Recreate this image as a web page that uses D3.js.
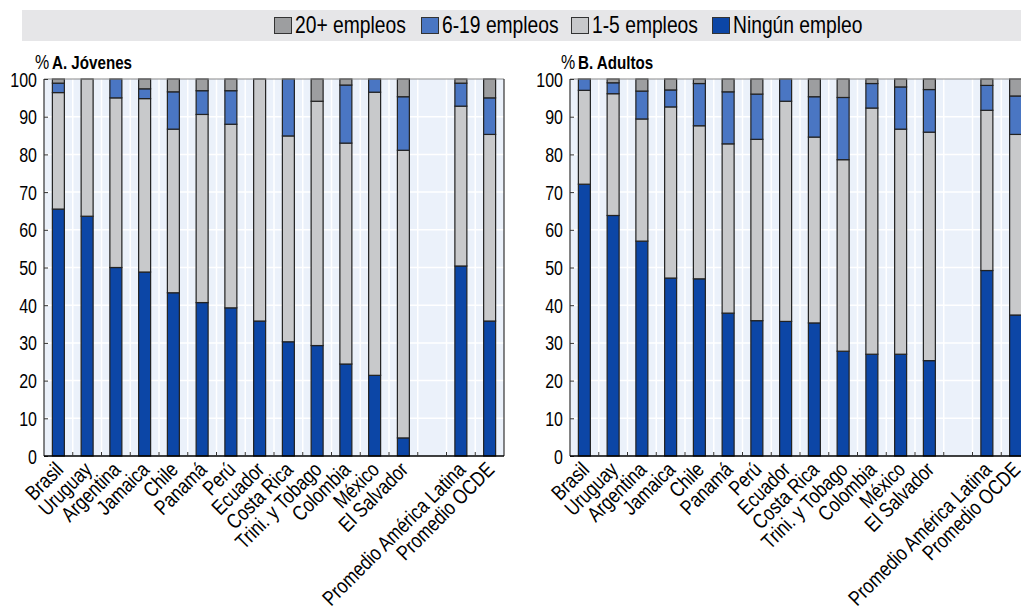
<!DOCTYPE html>
<html><head><meta charset="utf-8">
<script src="https://cdn.jsdelivr.net/npm/d3@7"></script>
<style>
html,body{margin:0;padding:0;background:#fff;}
svg{display:block;}
text{font-family:"Liberation Sans Narrow","Arial Narrow","Liberation Sans",Arial,sans-serif;fill:#000;}
</style></head><body>
<svg id="chart" width="1021" height="611"></svg>
<script>
const categories = ["Brasil","Uruguay","Argentina","Jamaica","Chile","Panamá","Perú","Ecuador","Costa Rica","Trini. y Tobago","Colombia","México","El Salvador","","Promedio América Latina","Promedio OCDE"];
const categoriesB = ["Brasil","Uruguay","Argentina","Jamaica","Chile","Panamá","Perú","Ecuador","Costa Rica","Trini. y Tobago","Colombia","México","El Salvador","","Promedio América Latina","Promedio OCDE"];
const seriesNames = ["Ningún empleo","1-5 empleos","6-19 empleos","20+ empleos"];
const legendOrder = ["20+ empleos","6-19 empleos","1-5 empleos","Ningún empleo"];
const yTicks = [0,10,20,30,40,50,60,70,80,90,100];

// Panel A: Jóvenes (segment sizes, %)
const jovNinguno = [65.5,63.6,50.0,48.8,43.3,40.7,39.3,35.8,30.3,29.3,24.4,21.4,4.8,null,50.4,35.8];
const jov1a5     = [30.9,36.4,45.0,46.0,43.4,49.9,48.7,64.2,54.6,64.8,58.6,75.1,76.3,null,42.4,49.5];
const jov6a19    = [2.5,0,5.0,2.6,9.9,6.3,8.9,0,15.1,0,15.4,3.5,14.2,null,6.1,9.7];
const jov20mas   = [1.1,0,0,2.6,3.4,3.1,3.1,0,0,5.9,1.6,0,4.7,null,1.1,5.0];

// Panel B: Adultos
const adNinguno = [72.1,63.8,57.0,47.2,47.0,37.9,35.9,35.7,35.3,27.8,27.0,27.0,25.3,null,49.2,37.4];
const ad1a5     = [24.9,32.3,32.4,45.4,40.6,44.9,48.1,58.4,49.3,50.8,65.3,59.7,60.6,null,42.5,47.9];
const ad6a19    = [3.0,2.9,7.4,4.5,11.2,13.8,12.0,5.9,10.7,16.5,6.5,11.2,11.3,null,6.6,10.2];
const ad20mas   = [0,1.0,3.2,2.9,1.2,3.4,4.0,0,4.7,4.9,1.2,2.1,2.8,null,1.7,4.5];

const colors = {"Ningún empleo":"#0c46a6","1-5 empleos":"#c8c9cb","6-19 empleos":"#4a76c3","20+ empleos":"#9d9ea0"};
const SX = 0.82; // horizontal condensing to mimic a narrow typeface

const svg = d3.select("#chart");

// Legend band
svg.append("rect").attr("x",22).attr("y",10).attr("width",1010).attr("height",31).attr("fill","#e6e6e8");
const legendX = [274,421,571,712];
const lg = svg.append("g");
legendOrder.forEach((name,i)=>{
  lg.append("rect").attr("x",legendX[i]+0.5).attr("y",17.5).attr("width",17).attr("height",16)
    .attr("fill",colors[name]).attr("stroke","#333").attr("stroke-width",1);
  lg.append("text").attr("transform",`translate(${legendX[i]+21},33) scale(${SX},1)`)
    .attr("font-size",23.5).text(name);
});

function panel(cfg){
  const {left,right,top,bottom,title,data,cats} = cfg;
  const g = svg.append("g");
  const keys = cats.map((c,i)=> c===""? "__gap"+i : c);
  const x = d3.scaleBand().domain(keys).range([left,right]).paddingInner(0.583).paddingOuter(0.2915);
  const y = d3.scaleLinear().domain([0,100]).range([bottom,top]);
  const step = x.step(), off=(step-x.bandwidth())/2;

  g.append("rect").attr("x",left).attr("y",top).attr("width",right-left).attr("height",bottom-top).attr("fill","#ebf1fa");
  g.selectAll(".hg").data(yTicks.filter(t=>t>0&&t<100)).join("line")
    .attr("x1",left).attr("x2",right).attr("y1",d=>y(d)).attr("y2",d=>y(d))
    .attr("stroke","#fff").attr("stroke-width",1.5);
  const bounds = keys.slice(1).map(k=>x(k)-off);
  g.selectAll(".vg").data(bounds).join("line")
    .attr("x1",d=>d).attr("x2",d=>d).attr("y1",top).attr("y2",bottom)
    .attr("stroke","#fff").attr("stroke-width",1.5);

  const rows = keys.map((k,i)=>({key:k,
    "Ningún empleo":data[0][i]||0,"1-5 empleos":data[1][i]||0,"6-19 empleos":data[2][i]||0,"20+ empleos":data[3][i]||0}));
  const stack = d3.stack().keys(seriesNames)(rows);
  stack.forEach(s=>{
    g.selectAll(null).data(s.filter(d=>d[1]-d[0]>0 && !d.data.key.startsWith("__gap"))).join("rect")
      .attr("x",d=>x(d.data.key)).attr("width",x.bandwidth())
      .attr("y",d=>y(d[1])).attr("height",d=>y(d[0])-y(d[1]))
      .attr("fill",colors[s.key]).attr("stroke","#222").attr("stroke-width",1.2);
  });

  g.append("line").attr("x1",left).attr("x2",right).attr("y1",top).attr("y2",top).attr("stroke","#8a8a8a").attr("stroke-width",1.2);
  g.append("line").attr("x1",right).attr("x2",right).attr("y1",top).attr("y2",bottom).attr("stroke","#333").attr("stroke-width",1.2);
  g.append("line").attr("x1",left).attr("x2",left).attr("y1",top).attr("y2",bottom).attr("stroke","#333").attr("stroke-width",1.2);

  const ya = g.append("g").attr("transform",`translate(${left},0)`)
    .call(d3.axisLeft(y).tickValues(yTicks).tickSize(-4).tickPadding(7));
  ya.select(".domain").remove();
  ya.selectAll(".tick line").attr("stroke","#333");
  ya.selectAll("text").attr("font-size",19.5).attr("font-family",null).attr("dy","0.36em")
    .attr("x",-7/SX).attr("transform",`scale(${SX},1)`);

  g.append("line").attr("x1",left).attr("x2",right).attr("y1",bottom).attr("y2",bottom).attr("stroke","#000").attr("stroke-width",1.5);
  g.selectAll(".xt").data(bounds).join("line")
    .attr("x1",d=>d).attr("x2",d=>d).attr("y1",bottom).attr("y2",bottom-4).attr("stroke","#333");
  g.selectAll(".xl").data(keys.filter(k=>!k.startsWith("__gap"))).join("text")
    .attr("transform",d=>`translate(${x(d)+x.bandwidth()/2+6},${bottom+15}) rotate(-45) scale(${SX},1)`)
    .attr("text-anchor","end").attr("font-size",21).text(d=>d);

  g.append("text").attr("transform",`translate(${left-9},${top-10}) scale(${SX},1)`).attr("font-size",19.5).text("%");
  g.append("text").attr("transform",`translate(${left+8},${top-10}) scale(${SX},1)`).attr("font-size",18.5).attr("font-weight","bold").text(title);
}

panel({left:44,right:504,top:79,bottom:456,title:"A. Jóvenes",cats:categories,data:[jovNinguno,jov1a5,jov6a19,jov20mas]});
panel({left:570,right:1030,top:79,bottom:456,title:"B. Adultos",cats:categoriesB,data:[adNinguno,ad1a5,ad6a19,ad20mas]});
</script>
</body></html>
